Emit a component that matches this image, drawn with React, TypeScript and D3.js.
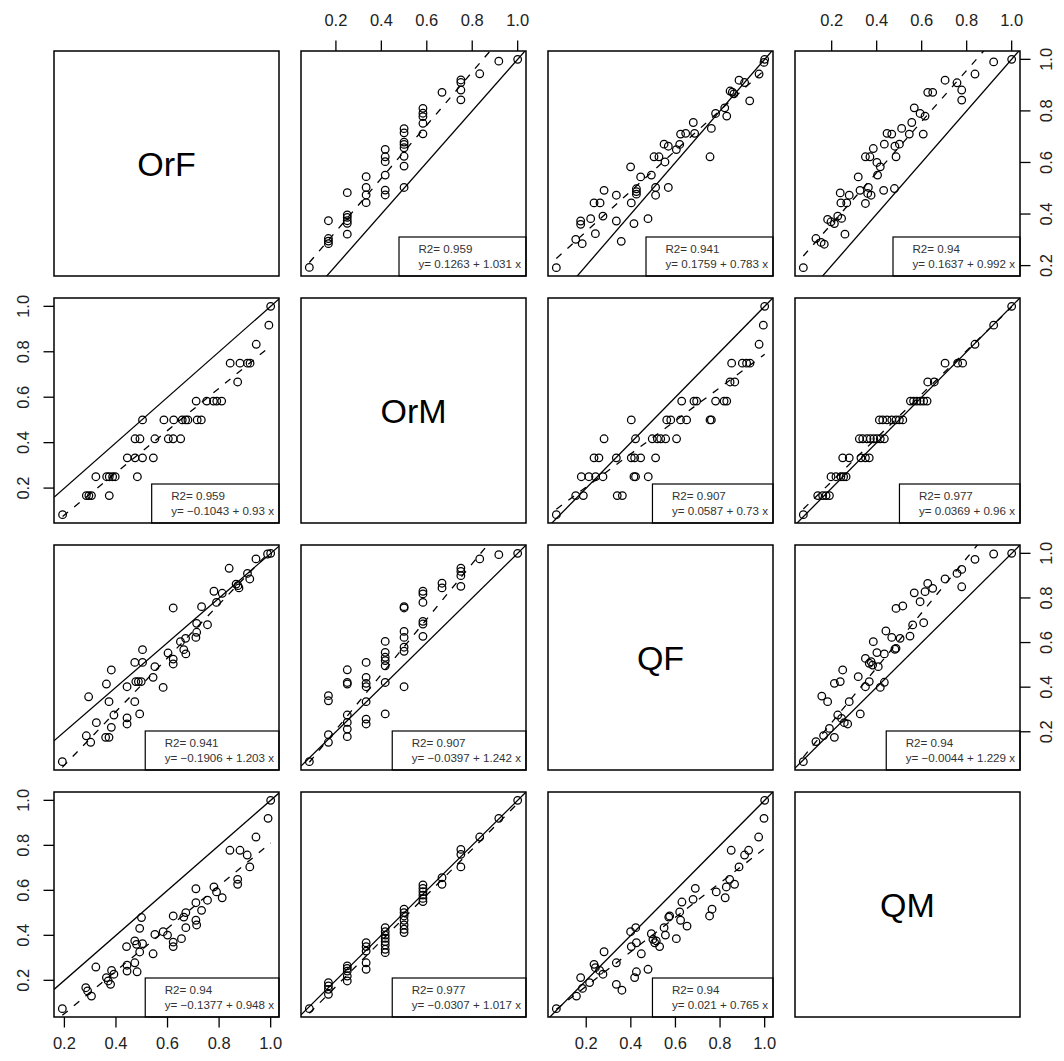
import React, { useMemo } from "react";
import * as d3 from "d3";

// ---------- data ----------
const variables = ["OrF", "OrM", "QF", "QM"];
const tickValues = [0.2, 0.4, 0.6, 0.8, 1.0];
const tickLabels = ["0.2", "0.4", "0.6", "0.8", "1.0"];

// [OrF, OrM]
const orfOrm: [number, number][] = [
  [0.193, 0.083],
  [0.285, 0.167], [0.295, 0.167], [0.305, 0.167], [0.374, 0.167],
  [0.322, 0.25], [0.364, 0.25], [0.374, 0.25], [0.387, 0.25], [0.397, 0.25], [0.483, 0.25],
  [0.444, 0.333], [0.474, 0.333], [0.503, 0.333], [0.545, 0.333],
  [0.474, 0.417], [0.493, 0.417], [0.551, 0.417], [0.603, 0.417], [0.622, 0.417], [0.651, 0.417],
  [0.503, 0.5], [0.586, 0.5], [0.624, 0.5], [0.657, 0.5], [0.67, 0.5], [0.679, 0.5], [0.715, 0.5], [0.731, 0.5],
  [0.711, 0.583], [0.752, 0.583], [0.778, 0.583], [0.791, 0.583], [0.81, 0.583],
  [0.872, 0.667],
  [0.843, 0.75], [0.881, 0.75], [0.91, 0.75], [0.92, 0.75],
  [0.944, 0.833],
  [0.993, 0.917],
  [1.0, 1.0],
];

// [OrF, QF]
const orfQf: [number, number][] = [
  [0.192, 0.066], [0.285, 0.182], [0.302, 0.153], [0.294, 0.357], [0.324, 0.241],
  [0.363, 0.414], [0.36, 0.175], [0.373, 0.175], [0.382, 0.477], [0.373, 0.335], [0.392, 0.275], [0.382, 0.22],
  [0.443, 0.262], [0.443, 0.235], [0.443, 0.402],
  [0.473, 0.511], [0.503, 0.511], [0.503, 0.568],
  [0.477, 0.425], [0.487, 0.425], [0.498, 0.425],
  [0.473, 0.335], [0.492, 0.28],
  [0.544, 0.444], [0.551, 0.492], [0.583, 0.399], [0.602, 0.553], [0.622, 0.526], [0.622, 0.504], [0.622, 0.755],
  [0.65, 0.604], [0.67, 0.619], [0.663, 0.568], [0.671, 0.549],
  [0.71, 0.623], [0.713, 0.646], [0.713, 0.686], [0.732, 0.761], [0.755, 0.68],
  [0.78, 0.83], [0.79, 0.78], [0.812, 0.821], [0.839, 0.933],
  [0.866, 0.862], [0.873, 0.855], [0.877, 0.845],
  [0.91, 0.91], [0.919, 0.885], [0.943, 0.975], [0.988, 0.997], [1.0, 1.0],
];

// [OrF, QM]
const orfQm: [number, number][] = [
  [0.192, 0.074], [0.283, 0.167], [0.29, 0.153], [0.305, 0.13], [0.322, 0.259],
  [0.363, 0.212], [0.37, 0.197], [0.379, 0.182], [0.383, 0.244], [0.392, 0.227],
  [0.441, 0.35], [0.443, 0.267], [0.443, 0.241],
  [0.473, 0.375], [0.48, 0.36], [0.492, 0.326], [0.473, 0.278], [0.482, 0.238],
  [0.499, 0.479], [0.492, 0.431], [0.503, 0.363],
  [0.544, 0.318], [0.551, 0.404], [0.583, 0.416], [0.6, 0.401],
  [0.622, 0.486], [0.622, 0.37], [0.622, 0.35], [0.654, 0.385], [0.663, 0.481], [0.671, 0.501], [0.671, 0.434],
  [0.71, 0.607], [0.71, 0.545], [0.71, 0.467], [0.713, 0.446], [0.732, 0.511], [0.755, 0.556],
  [0.78, 0.615], [0.79, 0.593], [0.812, 0.567],
  [0.842, 0.778], [0.872, 0.649], [0.872, 0.627], [0.881, 0.778], [0.909, 0.757], [0.919, 0.704],
  [0.943, 0.837], [0.99, 0.92], [1.0, 1.0],
];

// [OrM, QF]
const ormQf: [number, number][] = [
  [0.083, 0.066],
  [0.167, 0.153], [0.167, 0.187], [0.167, 0.362], [0.167, 0.339],
  [0.25, 0.275], [0.25, 0.242], [0.25, 0.212], [0.25, 0.178], [0.25, 0.421], [0.25, 0.414], [0.25, 0.478],
  [0.333, 0.511], [0.333, 0.444], [0.333, 0.417], [0.333, 0.402], [0.333, 0.335], [0.333, 0.257], [0.333, 0.235],
  [0.417, 0.605], [0.417, 0.556], [0.417, 0.534], [0.417, 0.519], [0.417, 0.496], [0.417, 0.421], [0.417, 0.28],
  [0.5, 0.761], [0.5, 0.755], [0.5, 0.65], [0.5, 0.623], [0.5, 0.579], [0.5, 0.561], [0.5, 0.402],
  [0.583, 0.83], [0.583, 0.818], [0.583, 0.78], [0.583, 0.695], [0.583, 0.683], [0.583, 0.628],
  [0.667, 0.866], [0.667, 0.845],
  [0.75, 0.934], [0.75, 0.919], [0.75, 0.9], [0.75, 0.852],
  [0.833, 0.975], [0.917, 0.994], [1.0, 1.0],
];

// [OrM, QM]
const ormQm: [number, number][] = [
  [0.083, 0.074],
  [0.167, 0.19], [0.167, 0.175], [0.167, 0.16], [0.167, 0.138],
  [0.25, 0.264], [0.25, 0.253], [0.25, 0.241], [0.25, 0.219], [0.25, 0.197],
  [0.333, 0.367], [0.333, 0.35], [0.333, 0.33], [0.333, 0.278], [0.333, 0.249],
  [0.417, 0.434], [0.417, 0.416], [0.417, 0.401], [0.417, 0.387], [0.417, 0.372], [0.417, 0.357], [0.417, 0.338], [0.417, 0.323],
  [0.5, 0.516], [0.5, 0.501], [0.5, 0.486], [0.5, 0.467], [0.5, 0.446], [0.5, 0.427], [0.5, 0.412],
  [0.583, 0.624], [0.583, 0.609], [0.583, 0.594], [0.583, 0.579], [0.583, 0.564], [0.583, 0.55],
  [0.667, 0.656], [0.667, 0.627],
  [0.75, 0.782], [0.75, 0.76], [0.75, 0.704],
  [0.833, 0.837], [0.917, 0.92], [1.0, 1.0],
];

// [QF, QM]
const qfQm: [number, number][] = [
  [0.066, 0.074], [0.156, 0.13], [0.183, 0.164], [0.175, 0.212], [0.215, 0.19],
  [0.235, 0.271], [0.241, 0.256], [0.26, 0.244], [0.275, 0.227], [0.28, 0.327],
  [0.335, 0.278], [0.335, 0.182], [0.36, 0.156],
  [0.399, 0.416], [0.402, 0.35], [0.417, 0.212], [0.425, 0.238], [0.422, 0.434], [0.425, 0.367], [0.447, 0.318], [0.477, 0.249],
  [0.492, 0.407], [0.499, 0.382], [0.507, 0.367], [0.514, 0.375], [0.529, 0.35], [0.549, 0.434], [0.555, 0.401], [0.57, 0.481], [0.574, 0.486],
  [0.604, 0.385], [0.619, 0.504], [0.623, 0.467], [0.629, 0.548], [0.652, 0.441], [0.679, 0.56], [0.689, 0.609],
  [0.753, 0.486], [0.764, 0.516], [0.783, 0.593], [0.823, 0.567], [0.828, 0.615], [0.843, 0.649], [0.865, 0.627],
  [0.85, 0.778], [0.885, 0.704], [0.91, 0.757], [0.928, 0.778], [0.973, 0.837], [0.997, 0.92], [1.0, 1.0],
];

const pairData: Record<string, [number, number][]> = {
  "0-1": orfOrm,
  "0-2": orfQf,
  "0-3": orfQm,
  "1-2": ormQf,
  "1-3": ormQm,
  "2-3": qfQm,
};

// regression fits per panel: y = row variable, x = column variable
const fitRows = [0, 0, 0, 1, 1, 1, 2, 2, 2, 3, 3, 3];
const fitCols = [1, 2, 3, 0, 2, 3, 0, 1, 3, 0, 1, 2];
const fitR2 = [0.959, 0.941, 0.94, 0.959, 0.907, 0.977, 0.941, 0.907, 0.94, 0.94, 0.977, 0.94];
const fitA = [0.1263, 0.1759, 0.1637, -0.1043, 0.0587, 0.0369, -0.1906, -0.0397, -0.0044, -0.1377, -0.0307, 0.021];
const fitB = [1.031, 0.783, 0.992, 0.93, 0.73, 0.96, 1.203, 1.242, 1.229, 0.948, 1.017, 0.765];

// ---------- layout ----------
const W = 1064;
const H = 1061;
const P = 225;
const LEFT0 = 54;
const TOP0 = 51;
const STEP = 247;
const FONT = "'Liberation Sans', Arial, Helvetica, sans-serif";
const LEG_FS = 11.6;

let measureCtx: CanvasRenderingContext2D | null = null;
function textWidth(s: string, size: number): number {
  if (!measureCtx) {
    const c = document.createElement("canvas");
    measureCtx = c.getContext("2d");
  }
  if (!measureCtx) return s.length * size * 0.5;
  measureCtx.font = `${size}px ${FONT}`;
  return measureCtx.measureText(s).width;
}

const fmt = (v: number) => String(v).replace("-", "\u2212");

function getPoints(r: number, c: number): { x: number; y: number }[] {
  if (r < c) {
    return pairData[`${r}-${c}`].map((d) => ({ x: d[1], y: d[0] }));
  }
  return pairData[`${c}-${r}`].map((d) => ({ x: d[0], y: d[1] }));
}

export default function App() {
  const domains = useMemo(() => {
    return variables.map((_, v) => {
      const vals: number[] = [];
      Object.keys(pairData).forEach((k) => {
        const [a, b] = k.split("-").map(Number);
        if (a === v) pairData[k].forEach((d) => vals.push(d[0]));
        if (b === v) pairData[k].forEach((d) => vals.push(d[1]));
      });
      const [mn, mx] = d3.extent(vals) as [number, number];
      const ext = (mx - mn) * 0.04;
      return [mn - ext, mx + ext] as [number, number];
    });
  }, []);

  const lefts = variables.map((_, i) => LEFT0 + i * STEP);
  const tops = variables.map((_, i) => TOP0 + i * STEP);
  const xs = variables.map((_, i) => d3.scaleLinear().domain(domains[i]).range([lefts[i], lefts[i] + P]));
  const ys = variables.map((_, i) => d3.scaleLinear().domain(domains[i]).range([tops[i] + P, tops[i]]));

  const panels: React.ReactNode[] = [];

  for (let r = 0; r < 4; r++) {
    for (let c = 0; c < 4; c++) {
      const x0 = lefts[c];
      const y0 = tops[r];
      const key = `p${r}${c}`;
      if (r === c) {
        panels.push(
          <g key={key}>
            <rect x={x0} y={y0} width={P} height={P} fill="none" stroke="#000" strokeWidth={1.5} />
            <text
              x={x0 + P / 2}
              y={y0 + P / 2}
              textAnchor="middle"
              dominantBaseline="central"
              fontFamily={FONT}
              fontSize={34}
              fill="#000"
            >
              {variables[r]}
            </text>
          </g>
        );
        continue;
      }
      const xS = xs[c];
      const yS = ys[r];
      const pts = getPoints(r, c);
      const fi = fitRows.findIndex((fr, i) => fr === r && fitCols[i] === c);
      const a = fitA[fi];
      const b = fitB[fi];
      const [xmn, xmx] = d3.extent(pts, (p) => p.x) as [number, number];
      const line = d3
        .line<[number, number]>()
        .x((d) => xS(d[0]))
        .y((d) => yS(d[1]));
      const dxd = xS.domain();
      const idPath = line([
        [dxd[0], dxd[0]],
        [dxd[1], dxd[1]],
      ]);
      const fitPath = line([
        [xmn, a + b * xmn],
        [xmx, a + b * xmx],
      ]);
      const l1 = `R2= ${fitR2[fi]}`;
      const l2 = `y= ${fmt(a)} + ${fmt(b)} x`;
      const tw = Math.max(textWidth(l1, LEG_FS), textWidth(l2, LEG_FS));
      const boxW = tw + 24.5;
      const boxX = x0 + P - boxW;
      const boxY = y0 + 186;
      panels.push(
        <g key={key}>
          <defs>
            <clipPath id={`clip${r}${c}`}>
              <rect x={x0} y={y0} width={P} height={P} />
            </clipPath>
          </defs>
          <g clipPath={`url(#clip${r}${c})`}>
            {pts.map((p, i) => (
              <circle key={i} cx={xS(p.x)} cy={yS(p.y)} r={3.8} fill="none" stroke="#000" strokeWidth={1.25} />
            ))}
            <path d={idPath || ""} stroke="#000" strokeWidth={1.3} fill="none" />
            <path d={fitPath || ""} stroke="#000" strokeWidth={1.3} fill="none" strokeDasharray="7,8" />
          </g>
          <rect x={boxX} y={boxY} width={boxW} height={y0 + P - boxY} fill="#fff" stroke="#000" strokeWidth={1.2} />
          <text x={boxX + 19.5} y={y0 + 201.5} fontFamily={FONT} fontSize={LEG_FS} fill="#333">
            {l1}
          </text>
          <text x={boxX + 19.5} y={y0 + 217} fontFamily={FONT} fontSize={LEG_FS} fill="#333">
            {l2}
          </text>
          <rect x={x0} y={y0} width={P} height={P} fill="none" stroke="#000" strokeWidth={1.5} />
        </g>
      );
    }
  }

  const axes: React.ReactNode[] = [];
  const TICK = 10.5;
  const FS = 16.5;
  // top axes (columns 1, 3)
  [1, 3].forEach((c) => {
    const yT = tops[0];
    tickValues.forEach((t, i) => {
      const x = xs[c](t);
      axes.push(
        <g key={`top${c}${i}`}>
          <line x1={x} x2={x} y1={yT} y2={yT - TICK} stroke="#000" strokeWidth={1.3} />
          <text x={x} y={yT - 25} textAnchor="middle" fontFamily={FONT} fontSize={FS} fill="#222">
            {tickLabels[i]}
          </text>
        </g>
      );
    });
  });
  // bottom axes (columns 0, 2)
  [0, 2].forEach((c) => {
    const yB = tops[3] + P;
    tickValues.forEach((t, i) => {
      const x = xs[c](t);
      axes.push(
        <g key={`bot${c}${i}`}>
          <line x1={x} x2={x} y1={yB} y2={yB + TICK} stroke="#000" strokeWidth={1.3} />
          <text x={x} y={yB + 32} textAnchor="middle" fontFamily={FONT} fontSize={FS} fill="#222">
            {tickLabels[i]}
          </text>
        </g>
      );
    });
  });
  // left axes (rows 1, 3)
  [1, 3].forEach((r) => {
    const xL = lefts[0];
    tickValues.forEach((t, i) => {
      const y = ys[r](t);
      axes.push(
        <g key={`left${r}${i}`}>
          <line x1={xL} x2={xL - TICK} y1={y} y2={y} stroke="#000" strokeWidth={1.3} />
          <text
            transform={`translate(${xL - 25},${y}) rotate(-90)`}
            textAnchor="middle"
            fontFamily={FONT}
            fontSize={FS}
            fill="#222"
          >
            {tickLabels[i]}
          </text>
        </g>
      );
    });
  });
  // right axes (rows 0, 2)
  [0, 2].forEach((r) => {
    const xR = lefts[3] + P;
    tickValues.forEach((t, i) => {
      const y = ys[r](t);
      axes.push(
        <g key={`right${r}${i}`}>
          <line x1={xR} x2={xR + TICK} y1={y} y2={y} stroke="#000" strokeWidth={1.3} />
          <text
            transform={`translate(${xR + 32},${y}) rotate(-90)`}
            textAnchor="middle"
            fontFamily={FONT}
            fontSize={FS}
            fill="#222"
          >
            {tickLabels[i]}
          </text>
        </g>
      );
    });
  });

  return (
    <div style={{ position: "absolute", left: 0, top: 0, width: W, height: H, background: "#fff" }}>
      <svg width={W} height={H} viewBox={`0 0 ${W} ${H}`} style={{ display: "block" }}>
        <rect x={0} y={0} width={W} height={H} fill="#fff" />
        {panels}
        {axes}
      </svg>
    </div>
  );
}
